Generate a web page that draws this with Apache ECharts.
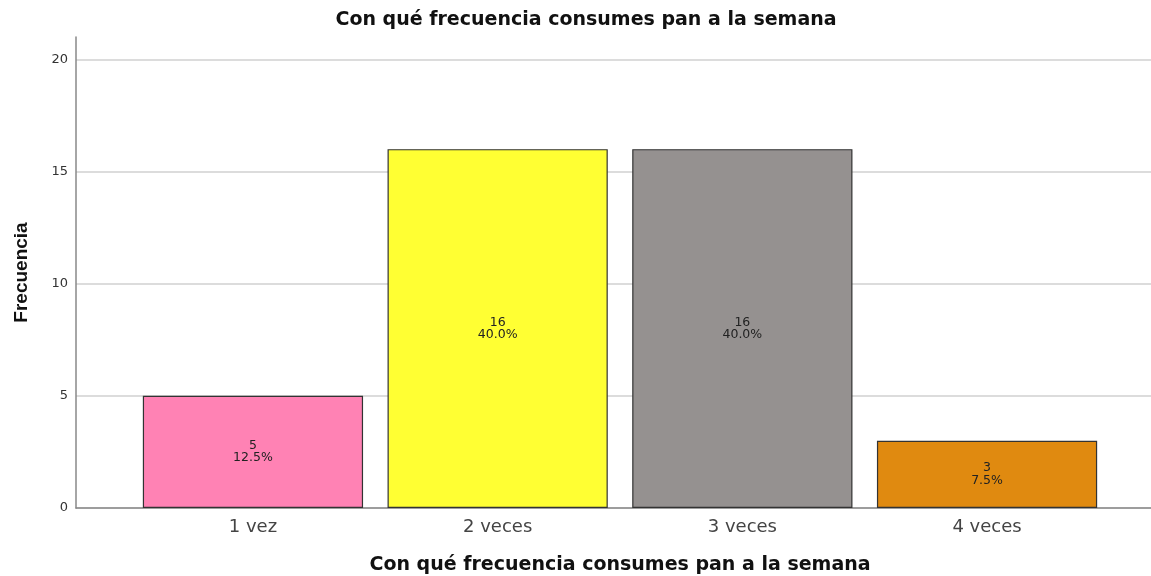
<!DOCTYPE html>
<html>
<head>
<meta charset="utf-8">
<script src="https://cdn.jsdelivr.net/npm/echarts@6/dist/echarts.min.js"></script>
<style>
  html, body { margin: 0; padding: 0; background: #fff; }
  #chart { width: 1151px; height: 576px; }
</style>
</head>
<body>
<div id="chart"></div>
<script>
// datos
const categorias = ["1 vez", "2 veces", "3 veces", "4 veces"];
const frecuencias = [5, 16, 16, 3];
const colores = ["#ff82b4", "#ffff33", "#959190", "#e08a10"];
const ticksY = [0, 5, 10, 15, 20];

const total = frecuencias.reduce((a, b) => a + b, 0);
const ancha = "'DejaVu Sans', Verdana, sans-serif";
const arial = "'Liberation Sans', Arial, sans-serif";

const myChart = echarts.init(document.getElementById("chart"));

var option = {
  animation: false,
  title: {
    text: "Con qué frecuencia consumes pan a la semana",
    left: 581,
    textAlign: "center",
    top: 6,
    textStyle: { fontFamily: ancha, fontSize: 19, fontWeight: "bold", color: "#111" },
  },
  grid: [
    // fondo: eje Y y líneas de la cuadrícula
    { left: 76, right: 0, top: 37, bottom: 68, outerBoundsMode: "none", containLabel: false },
    // barras
    { left: 130.6, right: 41.6, top: 37, bottom: 68, outerBoundsMode: "none", containLabel: false },
  ],
  xAxis: [
    {
      gridIndex: 0,
      type: "category",
      data: [""],
      axisLine: { lineStyle: { color: "#888", width: 1.5 } },
      axisTick: { show: false },
      axisLabel: { show: false },
    },
    {
      gridIndex: 1,
      type: "category",
      data: categorias,
      axisLine: { show: false },
      axisTick: { show: false },
      axisLabel: { fontFamily: ancha, fontSize: 18, color: "#444", margin: 10 },
      name: "Con qué frecuencia consumes pan a la semana",
      nameLocation: "middle",
      nameGap: 48,
      nameTextStyle: { fontFamily: ancha, fontSize: 19, fontWeight: "bold", color: "#111" },
    },
  ],
  yAxis: [
    {
      gridIndex: 0,
      type: "value",
      min: 0,
      max: 21,
      interval: 5,
      axisLine: { show: true, lineStyle: { color: "#888", width: 1.5 } },
      axisTick: { show: false },
      axisLabel: {
        fontFamily: ancha,
        fontSize: 13,
        color: "#333",
        margin: 8,
        formatter: (v) => (ticksY.includes(v) ? String(v) : ""),
      },
      splitLine: { show: true, showMaxLine: false, lineStyle: { color: "#d0d0d0", width: 1.5 } },
      name: "Frecuencia",
      nameLocation: "middle",
      nameRotate: 90,
      nameGap: 45,
      nameTextStyle: { fontFamily: arial, fontSize: 19, fontWeight: "bold", color: "#111" },
    },
    {
      gridIndex: 1,
      type: "value",
      min: 0,
      max: 21,
      show: false,
    },
  ],
  series: [
    {
      type: "bar",
      xAxisIndex: 1,
      yAxisIndex: 1,
      barCategoryGap: "10%",
      data: frecuencias.map((v, i) => ({
        value: v,
        itemStyle: { color: colores[i] },
      })),
      itemStyle: { borderColor: "#333", borderWidth: 1.2 },
      label: {
        show: true,
        position: "inside",
        fontFamily: ancha,
        fontSize: 12.5,
        lineHeight: 12.5,
        color: "#222",
        formatter: (p) => p.value + "\n" + ((p.value / total) * 100).toFixed(1) + "%",
      },
    },
  ],
};

myChart.setOption(option);
</script>
</body>
</html>
